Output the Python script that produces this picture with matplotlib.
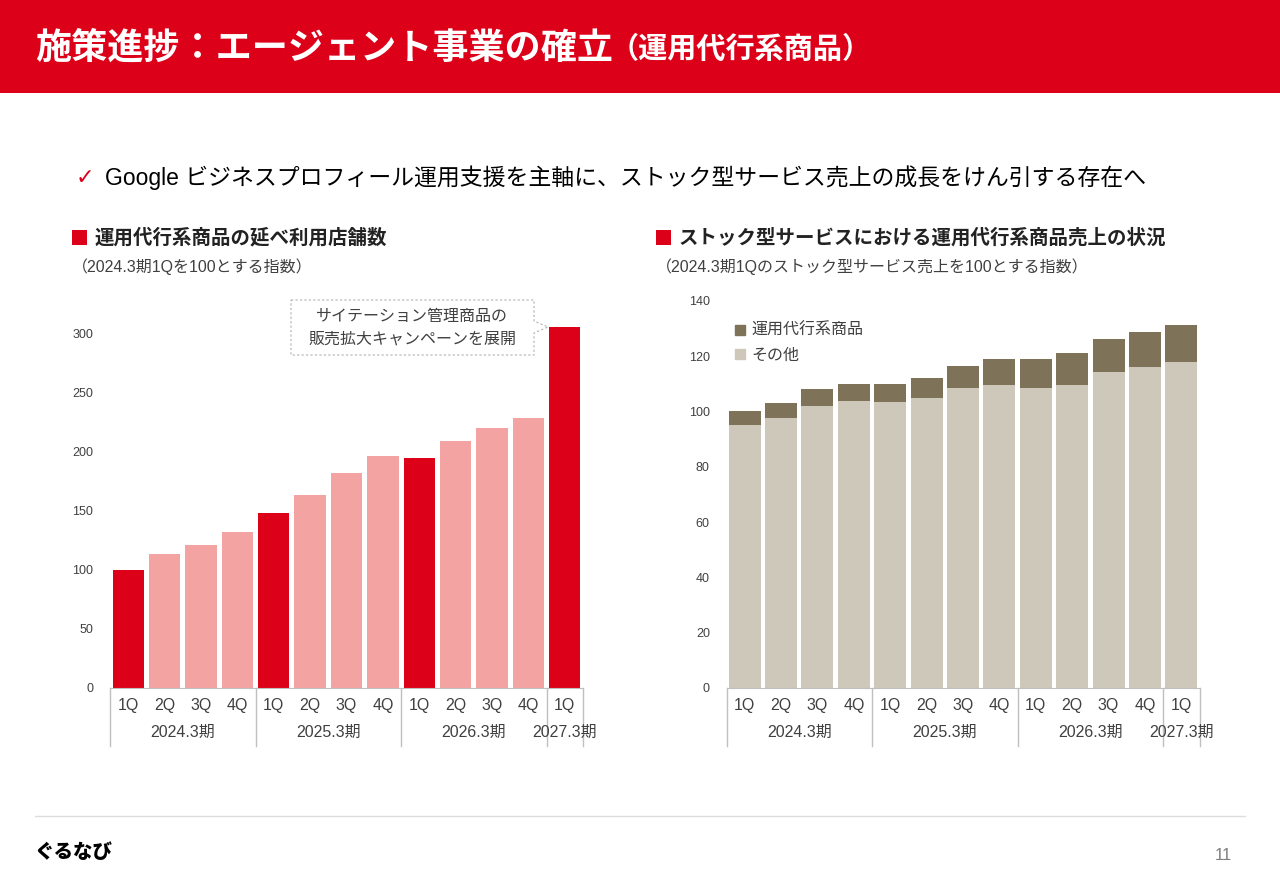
import matplotlib.pyplot as plt
import matplotlib.transforms as mtransforms
from matplotlib.patches import Rectangle, Polygon, Patch
from matplotlib.lines import Line2D

plt.rcParams['font.family'] = ['Liberation Sans', 'Noto Sans CJK JP', 'DejaVu Sans']

# ---------- データ ----------
quarters = ['1Q', '2Q', '3Q', '4Q'] * 3 + ['1Q']
periods = ['2024.3期', '2025.3期', '2026.3期', '2027.3期']
period_sizes = [4, 4, 4, 1]

# 運用代行系商品の延べ利用店舗数（指数）
store_index = [100, 113, 121, 132, 148, 163, 182, 196, 194, 209, 220, 228, 305]
is_first_q = [True, False, False, False] * 3 + [True]

# ストック型サービス売上（指数）
agent_sales = [4.8, 5.4, 5.9, 5.9, 6.5, 7.4, 8.2, 9.4, 10.4, 11.5, 12.2, 12.7, 13.2]
other_sales = [95.2, 97.7, 102.1, 103.9, 103.4, 104.7, 108.3, 109.5, 108.6, 109.5, 114.1, 116.0, 118.0]

RED = '#dc0018'
PINK = '#f4a3a3'
DARK = '#7e7358'
LIGHT = '#cec8ba'
TXT = '#404040'
AXC = '#bfbfbf'

W, H = 1280, 886


def fx(x):
    return x / W


def fy(y):
    return 1 - y / H


fig = plt.figure(figsize=(W / 100, H / 100), dpi=100)

# ---------- ヘッダー ----------
fig.add_artist(Rectangle((0, fy(93)), 1, 93 / H, transform=fig.transFigure,
                         color=RED, lw=0))
fig.text(fx(35), fy(48), '施策進捗：エージェント事業の確立', color='white',
         fontsize=26, fontweight='bold', va='center',
         family=['Noto Sans CJK JP', 'DejaVu Sans'])
fig.text(fx(610), fy(49), '（運用代行系商品）', color='white',
         fontsize=21, fontweight='bold', va='center',
         family=['Noto Sans CJK JP', 'DejaVu Sans'])

fig.text(fx(76), fy(178), '✓', color=RED, fontsize=16, va='center',
         family=['DejaVu Sans'])
fig.text(fx(105), fy(178),
         'Google ビジネスプロフィール運用支援を主軸に、ストック型サービス売上の成長をけん引する存在へ',
         color='black', fontsize=16.5, va='center')

# セクション見出し
for x0, title, sub in [
    (72, '運用代行系商品の延べ利用店舗数', '（2024.3期1Qを100とする指数）'),
    (656, 'ストック型サービスにおける運用代行系商品売上の状況',
     '（2024.3期1Qのストック型サービス売上を100とする指数）'),
]:
    fig.add_artist(Rectangle((fx(x0), fy(245)), 15 / W, 15 / H,
                             transform=fig.transFigure, color=RED, lw=0))
    fig.text(fx(x0 + 23), fy(238), title, color='#222222', fontsize=14,
             fontweight='bold', va='center',
             family=['Noto Sans CJK JP', 'DejaVu Sans'])
    fig.text(fx(x0), fy(267), sub, color=TXT, fontsize=11.5, va='center')


def category_axis(ax, h_px):
    ax.set_xlim(-0.5, len(quarters) - 0.5)
    ax.set_xticks(range(len(quarters)), quarters)
    ax.tick_params(axis='x', length=0, pad=7, labelsize=11.5, labelcolor=TXT)
    ax.tick_params(axis='y', length=0, pad=12, labelsize=9, labelcolor=TXT)
    for s in ['top', 'right', 'left']:
        ax.spines[s].set_visible(False)
    ax.spines['bottom'].set_color(AXC)
    tr = mtransforms.blended_transform_factory(ax.transData, ax.transAxes)
    start = 0
    edges = [-0.5]
    for name, n in zip(periods, period_sizes):
        ax.text(start + (n - 1) / 2, -44 / h_px, name, transform=tr,
                ha='center', va='center', fontsize=11.5, color=TXT)
        start += n
        edges.append(start - 0.5)
    for e in edges:
        ax.plot([e, e], [0, -58 / h_px], transform=tr, color=AXC, lw=1,
                clip_on=False)


# ---------- 左グラフ ----------
h1 = 330 * 355 / 300
ax1 = fig.add_axes([fx(110), fy(688), 473 / W, h1 / H])
colors = [RED if f else PINK for f in is_first_q]
ax1.bar(range(len(store_index)), store_index, width=0.86, color=colors)
ax1.set_ylim(0, 330)
ax1.set_yticks(range(0, 301, 50))
category_axis(ax1, h1)

# 吹き出し
bx0, bx1, by0, by1 = 291, 534, 300, 355
tip = (548, 327)
pts = [(bx0, by0), (bx1, by0), (bx1, 321), tip, (bx1, 333), (bx1, by1), (bx0, by1)]
fig.add_artist(Polygon([(fx(x), fy(y)) for x, y in pts], closed=True,
                       transform=fig.transFigure, facecolor='white',
                       edgecolor='#b0b0b0', lw=0.8, linestyle=(0, (2, 2))))
fig.text(fx(412), fy(316), 'サイテーション管理商品の', ha='center', va='center',
         fontsize=11.5, color=TXT)
fig.text(fx(412), fy(339), '販売拡大キャンペーンを展開', ha='center', va='center',
         fontsize=11.5, color=TXT)

# ---------- 右グラフ ----------
h2 = 688 - 300.7
ax2 = fig.add_axes([fx(726.5), fy(688), 473 / W, h2 / H])
x = range(len(other_sales))
ax2.bar(x, other_sales, width=0.88, color=LIGHT, label='その他')
ax2.bar(x, agent_sales, bottom=other_sales, width=0.88, color=DARK,
        label='運用代行系商品')
ax2.set_ylim(0, 140)
ax2.set_yticks(range(0, 141, 20))
category_axis(ax2, h2)
handles = [Patch(color=DARK, label='運用代行系商品'), Patch(color=LIGHT, label='その他')]
ax2.legend(handles=handles, loc='upper left', bbox_to_anchor=(fx(735), fy(323)),
           bbox_transform=fig.transFigure, frameon=False, fontsize=11.5,
           handlelength=0.6, handleheight=0.6, handletextpad=0.4,
           labelspacing=0.6, labelcolor=TXT, borderaxespad=0, borderpad=0)

# ---------- フッター ----------
fig.add_artist(Line2D([fx(35), fx(1245)], [fy(816), fy(816)],
                      transform=fig.transFigure, color='#dddddd', lw=1))
fig.text(fx(35), fy(852), 'ぐるなび', fontsize=14, fontweight='heavy',
         color='black', va='center', family=['Noto Sans CJK JP', 'DejaVu Sans'])
fig.text(fx(1232), fy(855), '11', fontsize=12, color='#7f7f7f', ha='right',
         va='center')

fig.savefig('out.png', dpi=100)
